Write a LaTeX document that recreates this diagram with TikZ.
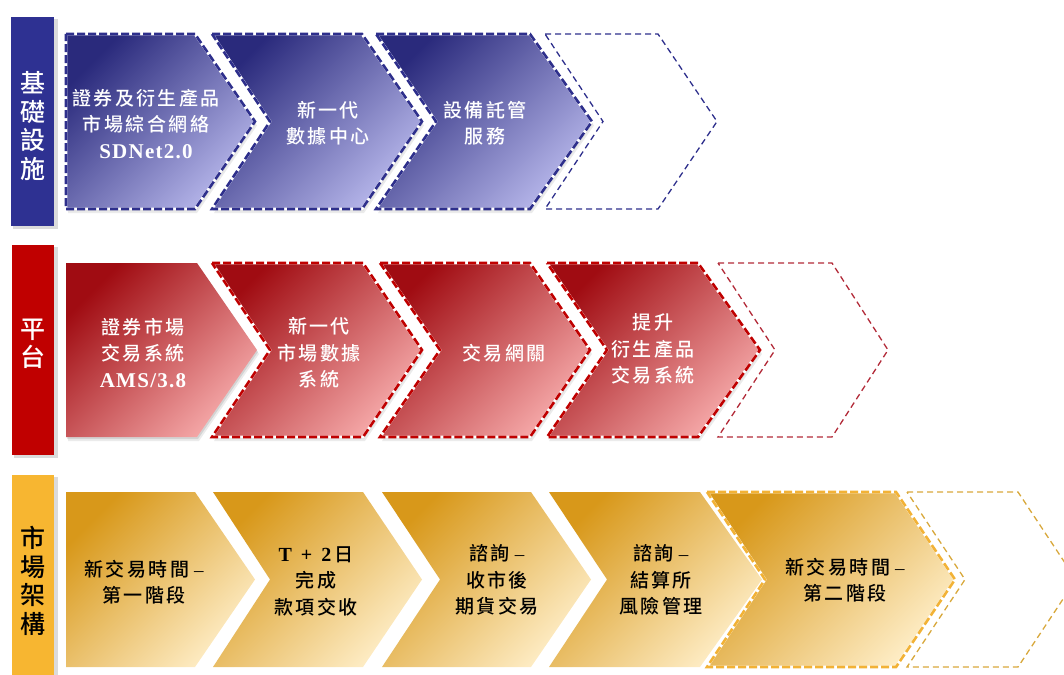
\documentclass[tikz,border=0pt]{standalone}
\usepackage{fontspec}
\setmainfont{Noto Sans CJK TC}[UprightFont=* Medium, BoldFont=* Bold]
\newfontfamily\lat{Liberation Serif}[LetterSpace=6]
\definecolor{bSide}{HTML}{2E3192}
\definecolor{bDark}{HTML}{2A2A7C}
\definecolor{bLight}{HTML}{B6B6EA}
\definecolor{bLine}{HTML}{2E2F8C}
\definecolor{rSide}{HTML}{C00000}
\definecolor{rDark}{HTML}{A00C12}
\definecolor{rLight}{HTML}{F6AAAA}
\definecolor{rLine}{HTML}{C00000}
\definecolor{rThin}{HTML}{B22A38}
\definecolor{gSide}{HTML}{F7B631}
\definecolor{gDark}{HTML}{D8981A}
\definecolor{gLight}{HTML}{FEEDC6}
\definecolor{gLine}{HTML}{F2B236}
\definecolor{gThin}{HTML}{D8A83C}
\newcommand\chev[7]{%
  \path[#7] (#1,#5) -- (#3,#5) -- (#4,{(#5+#6)/2}) -- (#3,#6) -- (#1,#6) -- (#2,{(#5+#6)/2}) -- cycle;}
\newcommand\chevshadow[6]{%
  \begin{scope}[shift={(2,4)}]\chev{#1}{#2}{#3}{#4}{#5}{#6}{fill=black, opacity=0.08}\end{scope}%
  \begin{scope}[shift={(1,2)}]\chev{#1}{#2}{#3}{#4}{#5}{#6}{fill=black, opacity=0.10}\end{scope}}
\newcommand\dash{\hspace{5pt}{\lat –}}
\tikzset{
  bfill/.style={top color=bDark, bottom color=bLight, shading angle=45},
  rfill/.style={top color=rDark, bottom color=rLight, shading angle=45},
  gfill/.style={top color=gDark, bottom color=gLight, shading angle=45},
  wline/.style={draw=white, line width=2.8pt},
  thick dash/.style={draw=#1, line width=2.6pt, dash pattern=on 8pt off 3pt},
  thin dash/.style={draw=#1, line width=1.3pt, dash pattern=on 6pt off 4pt},
  sideshadow/.style={fill=black, opacity=0.14},
  sidetext/.style={align=center, font=\fontsize{25}{28.5}\selectfont},
  ctext/.style={align=center, font=\fontsize{19}{26.5}\selectfont\addfontfeatures{LetterSpace=13}},
}
\begin{document}
\begin{tikzpicture}[x=1pt,y=-1pt]
\useasboundingbox (0,0) rectangle (1064,674);
\clip (0,0) rectangle (1064,674);
% ---------- sidebars
\path[sideshadow] (13,19) rectangle (58,229);
\path[sideshadow] (14,247) rectangle (58,458);
\path[sideshadow] (14,477) rectangle (58,690);
\path[fill=bSide] (11,17) rectangle (54,226);
\path[fill=rSide] (12,245) rectangle (54,455);
\path[fill=gSide] (12,475) rectangle (54,690);
\node[sidetext, text=white] (s1) at (32.5,126) {基\\礎\\設\\施};
\node[sidetext, text=white] (s2) at (32.5,344) {平\\台};
\node[sidetext, text=black] (s3) at (32.5,581) {市\\場\\架\\構};
% ---------- blue row
\chevshadow{66}{66}{195}{255}{34}{209}
\chev{66}{66}{195}{255}{34}{209}{bfill, wline}
\chev{66}{66}{195}{255}{34}{209}{thick dash=bLine}
\chevshadow{212}{270}{362}{422}{34}{209}
\chev{212}{270}{362}{422}{34}{209}{bfill, wline}
\chev{212}{270}{362}{422}{34}{209}{thick dash=bLine}
\chevshadow{376}{436}{530}{592}{34}{209}
\chev{376}{436}{530}{592}{34}{209}{bfill, wline}
\chev{376}{436}{530}{592}{34}{209}{thick dash=bLine}
\chev{545}{603}{658}{717}{34}{209}{thin dash=bLine}
% ---------- red row
\chevshadow{66}{66}{197}{257}{263}{437}
\chev{66}{66}{197}{257}{263}{437}{rfill}
\chevshadow{212}{270}{363}{422}{263}{437}
\chev{212}{270}{363}{422}{263}{437}{rfill, wline}
\chev{212}{270}{363}{422}{263}{437}{thick dash=rLine}
\chevshadow{380}{440}{530}{590}{263}{437}
\chev{380}{440}{530}{590}{263}{437}{rfill, wline}
\chev{380}{440}{530}{590}{263}{437}{thick dash=rLine}
\chevshadow{547}{607}{698}{760}{263}{437}
\chev{547}{607}{698}{760}{263}{437}{rfill, wline}
\chev{547}{607}{698}{760}{263}{437}{thick dash=rLine}
\chev{718}{775}{832}{888}{263}{437}{thin dash=rThin}
% ---------- gold row
\chev{66}{66}{195}{255}{492}{667}{gfill}
\chev{213}{270}{363}{422}{492}{667}{gfill}
\chev{382}{440}{531}{591}{492}{667}{gfill}
\chev{549}{607}{700}{762}{492}{667}{gfill}
\chev{707}{765}{896}{955}{492}{667}{gfill, wline}
\chev{707}{765}{896}{955}{492}{667}{thick dash=gLine}
\chev{907}{965}{1018}{1076}{492}{667}{thin dash=gThin}
% ---------- texts
\node[ctext, text=white] (b1) at (146,124) {證券及衍生產品\\市場綜合網絡\\{\fontsize{21}{26.5}\selectfont\lat\bfseries SDNet2.0}};
\node[ctext, text=white] (b2) at (328,123) {新一代\\數據中心};
\node[ctext, text=white] (b3) at (485,123) {設備託管\\服務};
\node[ctext, text=white] (r1) at (143,353) {證券市場\\交易系統\\{\fontsize{21}{26.5}\selectfont\lat\bfseries AMS/3.8}};
\node[ctext, text=white] (r2) at (319,353) {新一代\\市場數據\\系統};
\node[ctext, text=white] (r3) at (504,353) {交易網關};
\node[ctext, text=white] (r4) at (653,349) {提升\\衍生產品\\交易系統};
\node[ctext, text=black] (g1) at (144,582) {新交易時間\dash\\第一階段};
\node[ctext, text=black] (g2) at (316,581) {{\fontsize{20}{26.5}\selectfont\lat\bfseries T\hspace{9pt}+\hspace{9pt}2}\hspace{3pt}日\\完成\\款項交收};
\node[ctext, text=black] (g3) at (497,580) {諮詢\dash\\收市後\\期貨交易};
\node[ctext, text=black] (g4) at (661,580) {諮詢\dash\\結算所\\風險管理};
\node[ctext, text=black] (g5) at (845,580) {新交易時間\dash\\第二階段};
\end{tikzpicture}
\end{document}
